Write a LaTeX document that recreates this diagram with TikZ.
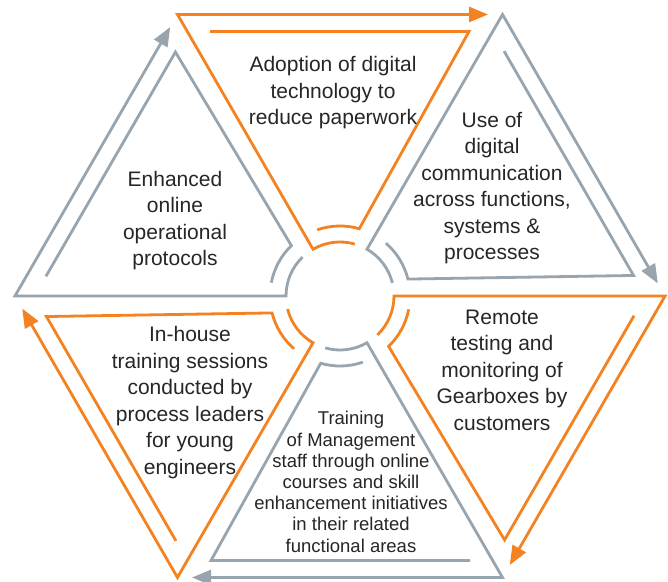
\documentclass[tikz,border=0pt]{standalone}
\usepackage{fontspec}
\setmainfont{Liberation Sans}
\usetikzlibrary{arrows.meta}
\definecolor{orng}{RGB}{245,130,32}
\definecolor{gry}{RGB}{152,164,174}
\tikzset{
  strand/.style={line width=2.8pt},
  tip/.style={{Triangle[length=19pt,width=15pt]}-},
  txt/.style={align=center, inner sep=0pt, text=black!85, font=\fontsize{21}{26.5}\selectfont},
  smalltxt/.style={align=center, inner sep=0pt, text=black!85, font=\fontsize{18.5}{21.2}\selectfont}
}
\begin{document}
\begin{tikzpicture}[x=1pt,y=1pt]
\fill[white] (0,0) rectangle (668,581);
\useasboundingbox (0,0) rectangle (668,581);
\coordinate (C) at (340,285);
\foreach \k/\col in {0/orng,1/gry,2/orng,3/gry,4/orng,5/gry}{
  \begin{scope}[shift={(C)}, rotate=-60*\k]
    \draw[strand, draw=\col, tip, \col] (148,281.5) -- (-162.5,281.5) -- (120:54) arc[start angle=120, end angle=74, radius=54];
    \draw[strand, draw=\col] (-130,264.5) -- (129,264.5) -- (74:70) arc[start angle=74, end angle=109, radius=70];
  \end{scope}
}
\node[txt, anchor=base] (t0) at (333,456) {Adoption of digital\\technology to\\reduce paperwork};
\node[txt, anchor=base] (t1) at (492,321) {Use of\\digital\\communication\\across functions,\\systems \&\\processes};
\node[txt, anchor=base] (t2) at (502,151) {Remote\\testing and\\monitoring of\\Gearboxes by\\customers};
\node[smalltxt, anchor=base] (t3) at (351,29) {Training\\of Management\\staff through online\\courses and skill\\enhancement initiatives\\in their related\\functional areas};
\node[txt, anchor=base] (t4) at (190,107) {In-house\\training sessions\\conducted by\\process leaders\\for young\\engineers};
\node[txt, anchor=base] (t5) at (175,315) {Enhanced\\online\\operational\\protocols};
\end{tikzpicture}
\end{document}
